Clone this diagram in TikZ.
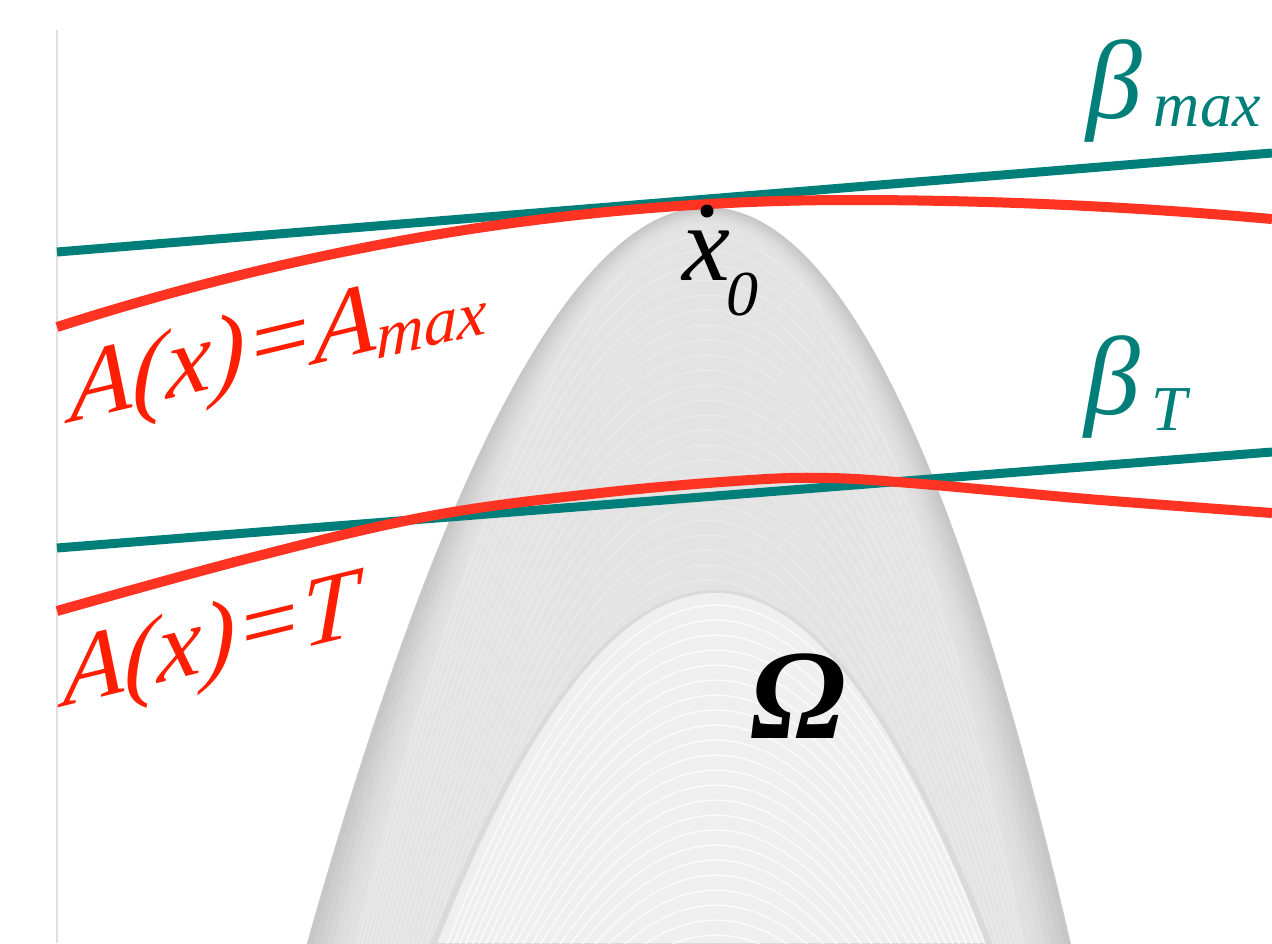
\documentclass[tikz,border=0pt]{standalone}
\usepackage{fontspec}
\setmainfont{Liberation Serif}
\definecolor{tealc}{HTML}{007F7A}
\definecolor{redc}{HTML}{FF3322}
\definecolor{redt}{HTML}{FF1E00}
\definecolor{g4}{HTML}{DADADA}
\definecolor{g5}{HTML}{EFEFEF}
\definecolor{frame}{HTML}{E0E0E0}
\tikzset{
  lbl/.style={inner sep=0pt, anchor=base west},
  tealline/.style={tealc, line width=9pt},
  redline/.style={redc, line width=10pt},
}
\begin{document}
\begin{tikzpicture}[x=1pt,y=-1pt]
\useasboundingbox (0,0) rectangle (1272,943);
\begin{scope}
\clip (0,0) rectangle (1272,943);
% outer gray region (layered for a soft edge)
\foreach \i/\c in {0/78,1/80,2/82,3/84,4/86,5/87,6/88,7/89}{
  \fill[black!\c!white, black!\the\numexpr100-\c\relax] plot[domain=27.4:0,samples=60] ({707-\x*(14.2-0.22*\i+0.02*\x)},{207+2.2*\i+\x*\x})
     -- plot[domain=0:27.4,samples=60] ({707+\x*(14.3-0.22*\i-0.033*\x)},{207+2.2*\i+\x*\x}) -- cycle;
}
\begin{scope}
\clip plot[domain=27.4:0,samples=60] ({707-\x*(12.6+0.02*\x)},{223+\x*\x})
   -- plot[domain=0:27.4,samples=60] ({707+\x*(12.7-0.033*\x)},{223+\x*\x}) -- cycle;
\foreach \a in {235,250,...,600}
  \draw[white, opacity=0.3, line width=1pt] plot[domain=-28:28, samples=50] ({707+13.4*\x},{\a+\x*\x});
\end{scope}
% inner lighter region
\fill[g4] plot[domain=19.5:0,samples=50] ({716-15.2*\x},{590+\x*\x})
   -- plot[domain=0:19.5,samples=50] ({716+14.7*\x},{590+\x*\x}) -- cycle;
\begin{scope}
\clip plot[domain=19.5:0,samples=50] ({716-14.9*\x},{593+\x*\x})
   -- plot[domain=0:19.5,samples=50] ({716+14.4*\x},{593+\x*\x}) -- cycle;
\fill[g5] (0,0) rectangle (1272,943);
\foreach \a in {605,620,...,945}
  \draw[white, opacity=0.8, line width=1.3pt] plot[domain=-20:20, samples=40] ({716+14.6*\x},{\a+\x*\x});
\end{scope}
% left frame line
\coordinate (ftop) at (57,30);
\coordinate (fbot) at (57,943);
\draw[frame, line width=2pt] (ftop) -- (fbot);
% teal lines
\coordinate (t1a) at (57,252);
\coordinate (t1b) at (1272,153);
\coordinate (t2a) at (57,548);
\coordinate (t2b) at (1272,452);
\draw[tealline] (t1a) -- (t1b);
\draw[tealline] (t2a) -- (t2b);
% red curves
\draw[redline] plot[domain=57:850, samples=60] (\x,{200+2.02*((\x-850)/100)^2})
   -- plot[domain=850:1272, samples=40] (\x,{200+1.07*((\x-850)/100)^2});
\draw[redline] plot[smooth, tension=0.6] coordinates {(57,611) (250,558) (430,516) (600,493) (750,480) (830,478) (910,483) (1000,491) (1100,500) (1272,513)};
\end{scope}
% point x0
\node[circle, fill=black, inner sep=0pt, minimum size=13pt] (x0dot) at (707,211) {};
\node[lbl] (x0lbl) at (682,280) {\fontsize{108}{108}\selectfont\itshape x\kern-4pt\raisebox{-35pt}{\fontsize{64}{64}\selectfont\itshape 0}};
% labels
\node[lbl, text=tealc] (bmax) at (1086,118) {\fontsize{112}{112}\selectfont\itshape β\kern12pt\raisebox{-8pt}{\fontsize{64}{64}\selectfont\itshape max}};
\node[lbl, text=tealc] (bT) at (1084,414) {\fontsize{112}{112}\selectfont\itshape β\kern12pt\raisebox{-16pt}{\fontsize{64}{64}\selectfont\itshape T}};
\node[lbl, text=redt, yslant=0.24] (amax) at (70,423) {\fontsize{102}{102}\selectfont\itshape A(x)=A\raisebox{-10pt}{\fontsize{66}{66}\selectfont\itshape max}};
\node[lbl, text=redt, yslant=0.244] (aT) at (63,707) {\fontsize{100}{100}\selectfont\itshape A(x)=T};
\node[lbl] (omega) at (750,738) {\fontsize{128}{128}\selectfont\bfseries\itshape Ω};
\end{tikzpicture}
\end{document}
